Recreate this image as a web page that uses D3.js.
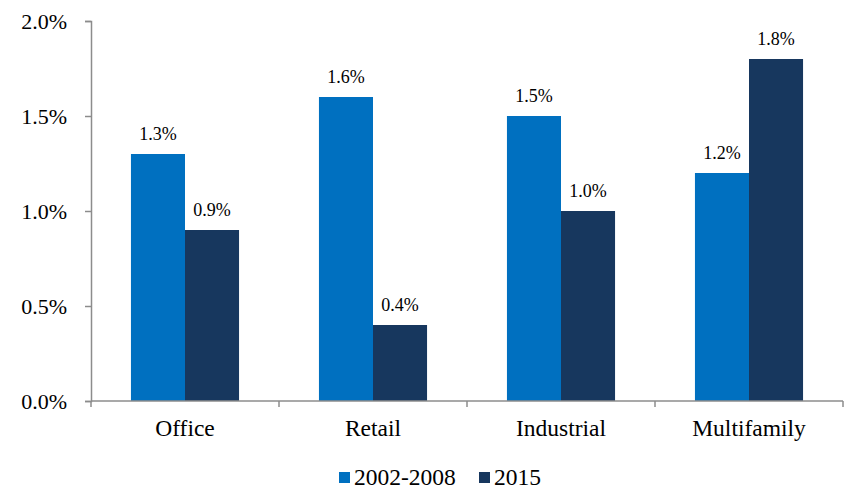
<!DOCTYPE html>
<html>
<head>
<meta charset="utf-8">
<script src="https://cdn.jsdelivr.net/npm/d3@7"></script>
</head>
<body style="margin:0">
<svg id="chart" width="856" height="490" font-family="Liberation Serif"></svg>
<script>
// Average annual growth by property type
const categories = ["Office", "Retail", "Industrial", "Multifamily"];
const seriesNames = ["2002-2008", "2015"];
const values2002_2008 = [1.3, 1.6, 1.5, 1.2];
const values2015 = [0.9, 0.4, 1.0, 1.8];
const yTicks = [0, 0.5, 1.0, 1.5, 2.0];
const colors = ["#0070C0", "#17375E"];
const FONT = "Liberation Serif";

const svg = d3.select("#chart");
const margin = { left: 91, right: 13, top: 21, bottom: 89 };
const W = 856, H = 490;

const x = d3.scaleBand().domain(categories).range([margin.left, W - margin.right]).paddingInner(0).paddingOuter(0);
const y = d3.scaleLinear().domain([0, 2]).range([H - margin.bottom, margin.top]);

const groupWidth = x.bandwidth() * 0.575;
const xs = d3.scaleBand().domain(seriesNames).range([0, groupWidth]).padding(0);

const rows = categories.map((c, i) => ({ cat: c, vals: [values2002_2008[i], values2015[i]] }));

// bars with value labels
const g = svg.append("g");
rows.forEach(r => {
  r.vals.forEach((v, j) => {
    const bx = x(r.cat) + (x.bandwidth() - groupWidth) / 2 + xs(seriesNames[j]);
    g.append("rect")
      .attr("x", bx)
      .attr("y", y(v))
      .attr("width", xs.bandwidth())
      .attr("height", y(0) - y(v))
      .attr("fill", colors[j]);
    g.append("text")
      .attr("x", bx + xs.bandwidth() / 2)
      .attr("y", y(v) - 14)
      .attr("text-anchor", "middle")
      .attr("font-family", FONT)
      .attr("font-size", 18)
      .attr("fill", "#000")
      .text(v.toFixed(1) + "%");
  });
});

// y axis
const yAxis = d3.axisLeft(y).tickValues(yTicks).tickFormat(d => d.toFixed(1) + "%").tickSize(6).tickPadding(18);
const yg = svg.append("g").attr("transform", `translate(${margin.left},0)`).call(yAxis);
yg.attr("font-family", FONT).attr("font-size", 22);
yg.select(".domain").attr("stroke", "#8c8c8c").attr("stroke-width", 1.5);
yg.selectAll(".tick line").attr("stroke", "#8c8c8c").attr("stroke-width", 1.5);
yg.selectAll(".tick text").attr("font-family", FONT).attr("font-size", 22).attr("fill", "#000").attr("dy", "0.33em");

// x axis with ticks at category boundaries
const xg = svg.append("g").attr("transform", `translate(0,${y(0)})`);
xg.append("line").attr("x1", margin.left).attr("x2", W - margin.right).attr("y1", 0).attr("y2", 0)
  .attr("stroke", "#8c8c8c").attr("stroke-width", 1.5);
const boundaries = categories.map(c => x(c)).concat([x(categories[categories.length - 1]) + x.bandwidth()]);
xg.selectAll("line.b").data(boundaries).join("line").attr("class", "b")
  .attr("x1", d => d).attr("x2", d => d).attr("y1", 0).attr("y2", 6)
  .attr("stroke", "#8c8c8c").attr("stroke-width", 1.5);
xg.selectAll("text").data(categories).join("text")
  .attr("x", d => x(d) + x.bandwidth() / 2)
  .attr("y", 35)
  .attr("text-anchor", "middle")
  .attr("font-family", FONT)
  .attr("font-size", 23.5)
  .attr("fill", "#000")
  .text(d => d);

// legend
const legend = svg.append("g").attr("transform", "translate(339,485)");
const items = [{ name: seriesNames[0], x: 0 }, { name: seriesNames[1], x: 140 }];
items.forEach((it, i) => {
  legend.append("rect").attr("x", it.x).attr("y", -13).attr("width", 11).attr("height", 11).attr("fill", colors[i]);
  legend.append("text").attr("x", it.x + 15).attr("y", 0)
    .attr("font-family", FONT)
    .attr("font-size", 23.5).attr("fill", "#000").text(it.name);
});
</script>
</body>
</html>
